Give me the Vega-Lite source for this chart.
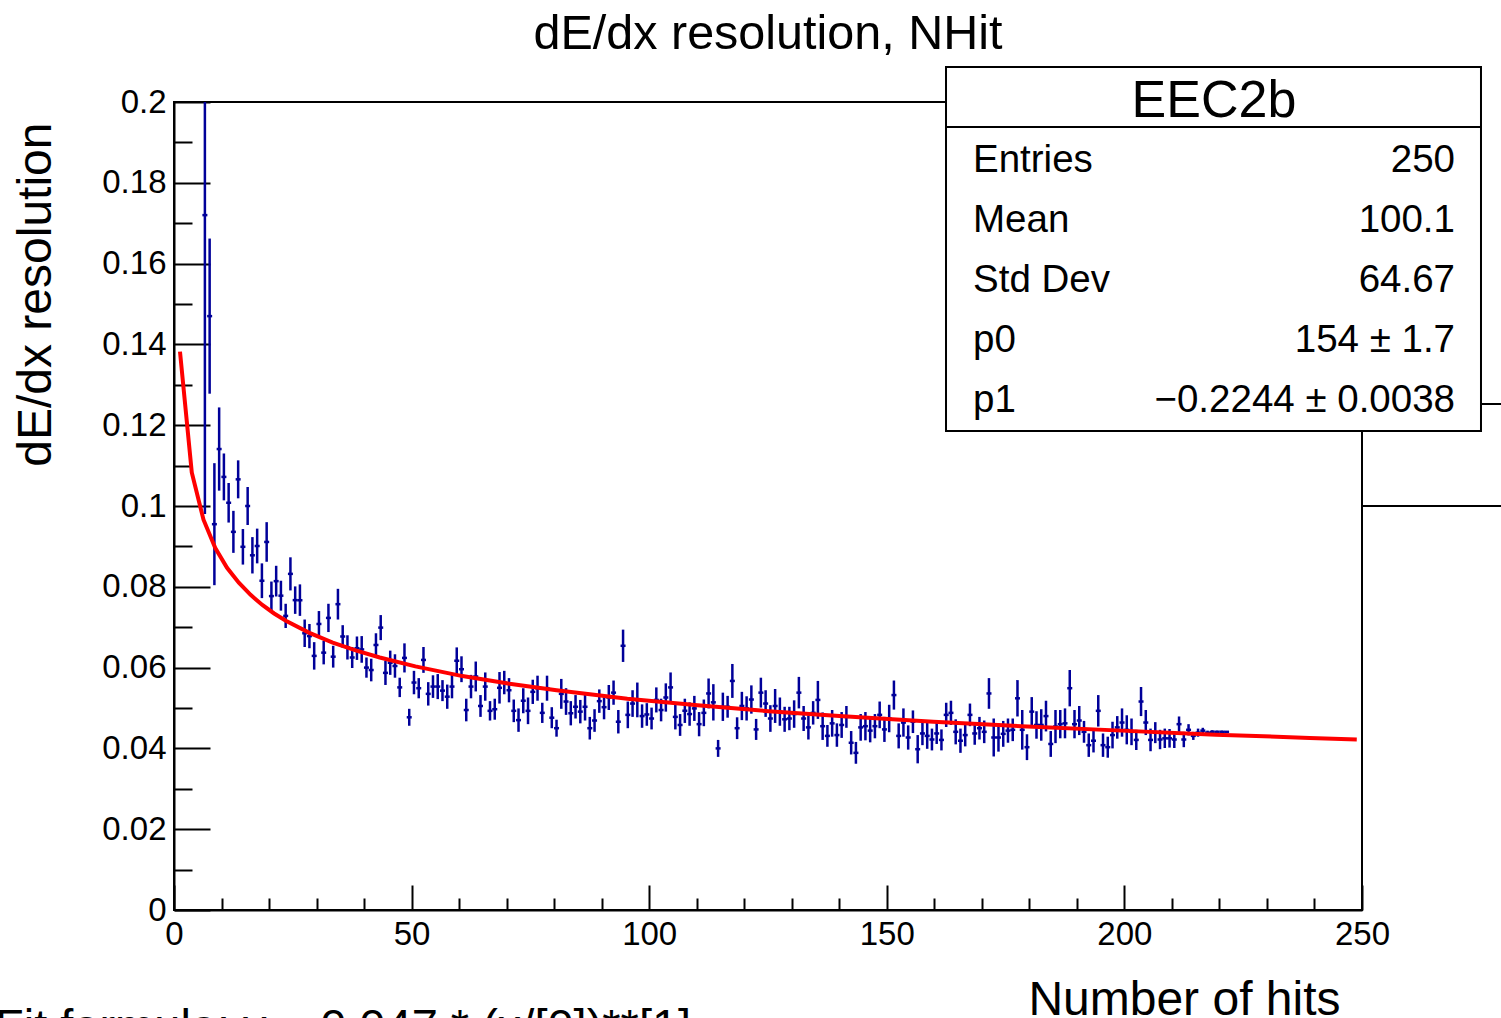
{
  "$schema": "https://vega.github.io/schema/vega-lite/v6.json",
  "width": 1188,
  "height": 808,
  "autosize": {"type": "none"},
  "padding": {"left": 174, "top": 102, "right": 139, "bottom": 108},
  "background": "white",
  "config": {"view": {"stroke": "black", "strokeWidth": 2}},
  "datasets": {
    "points": [
      {"x": 6.5, "y": 0.172, "e": 0.074},
      {"x": 7.5, "y": 0.147, "e": 0.0192},
      {"x": 8.5, "y": 0.0955, "e": 0.0151},
      {"x": 9.5, "y": 0.1141, "e": 0.0103},
      {"x": 10.5, "y": 0.1072, "e": 0.0058},
      {"x": 11.5, "y": 0.1008, "e": 0.0049},
      {"x": 12.5, "y": 0.0936, "e": 0.0052},
      {"x": 13.5, "y": 0.1066, "e": 0.0047},
      {"x": 14.5, "y": 0.0899, "e": 0.0044},
      {"x": 15.5, "y": 0.1, "e": 0.0047},
      {"x": 16.5, "y": 0.0878, "e": 0.0045},
      {"x": 17.5, "y": 0.0901, "e": 0.0043},
      {"x": 18.5, "y": 0.0815, "e": 0.0043},
      {"x": 19.5, "y": 0.0911, "e": 0.0049},
      {"x": 20.5, "y": 0.0777, "e": 0.0036},
      {"x": 21.5, "y": 0.0814, "e": 0.0038},
      {"x": 22.5, "y": 0.0778, "e": 0.0037},
      {"x": 23.5, "y": 0.0728, "e": 0.003},
      {"x": 24.5, "y": 0.0832, "e": 0.0041},
      {"x": 25.5, "y": 0.0767, "e": 0.0034},
      {"x": 26.5, "y": 0.0767, "e": 0.0039},
      {"x": 27.5, "y": 0.0685, "e": 0.0034},
      {"x": 28.5, "y": 0.0678, "e": 0.003},
      {"x": 29.5, "y": 0.0629, "e": 0.0034},
      {"x": 30.5, "y": 0.0708, "e": 0.0032},
      {"x": 31.5, "y": 0.0637, "e": 0.0029},
      {"x": 32.5, "y": 0.0723, "e": 0.0035},
      {"x": 33.5, "y": 0.0627, "e": 0.0027},
      {"x": 34.5, "y": 0.0757, "e": 0.0038},
      {"x": 35.5, "y": 0.0677, "e": 0.0028},
      {"x": 36.5, "y": 0.065, "e": 0.003},
      {"x": 37.5, "y": 0.0625, "e": 0.0026},
      {"x": 38.5, "y": 0.0648, "e": 0.0029},
      {"x": 39.5, "y": 0.0645, "e": 0.0033},
      {"x": 40.5, "y": 0.06, "e": 0.0025},
      {"x": 41.5, "y": 0.0594, "e": 0.0028},
      {"x": 42.5, "y": 0.0656, "e": 0.0029},
      {"x": 43.5, "y": 0.0699, "e": 0.0031},
      {"x": 44.5, "y": 0.0587, "e": 0.003},
      {"x": 45.5, "y": 0.0612, "e": 0.003},
      {"x": 46.5, "y": 0.0604, "e": 0.0029},
      {"x": 47.5, "y": 0.0551, "e": 0.0024},
      {"x": 48.5, "y": 0.0624, "e": 0.0036},
      {"x": 49.5, "y": 0.0477, "e": 0.0021},
      {"x": 50.5, "y": 0.0563, "e": 0.0029},
      {"x": 51.5, "y": 0.0549, "e": 0.0025},
      {"x": 52.5, "y": 0.0619, "e": 0.0032},
      {"x": 53.5, "y": 0.0535, "e": 0.0029},
      {"x": 54.5, "y": 0.0553, "e": 0.0028},
      {"x": 55.5, "y": 0.0553, "e": 0.0031},
      {"x": 56.5, "y": 0.0543, "e": 0.0026},
      {"x": 57.5, "y": 0.0528, "e": 0.003},
      {"x": 58.5, "y": 0.0553, "e": 0.0029},
      {"x": 59.5, "y": 0.0617, "e": 0.0033},
      {"x": 60.5, "y": 0.0596, "e": 0.0032},
      {"x": 61.5, "y": 0.0495, "e": 0.0028},
      {"x": 62.5, "y": 0.0553, "e": 0.0029},
      {"x": 63.5, "y": 0.0578, "e": 0.0037},
      {"x": 64.5, "y": 0.0505, "e": 0.0027},
      {"x": 65.5, "y": 0.0553, "e": 0.0035},
      {"x": 66.5, "y": 0.0493, "e": 0.0024},
      {"x": 67.5, "y": 0.0497, "e": 0.0026},
      {"x": 68.5, "y": 0.055, "e": 0.0039},
      {"x": 69.5, "y": 0.0563, "e": 0.0029},
      {"x": 70.5, "y": 0.0544, "e": 0.003},
      {"x": 71.5, "y": 0.0493, "e": 0.0028},
      {"x": 72.5, "y": 0.047, "e": 0.0029},
      {"x": 73.5, "y": 0.0518, "e": 0.0031},
      {"x": 74.5, "y": 0.0493, "e": 0.0033},
      {"x": 75.5, "y": 0.054, "e": 0.003},
      {"x": 76.5, "y": 0.0549, "e": 0.0031},
      {"x": 77.5, "y": 0.0488, "e": 0.0025},
      {"x": 78.5, "y": 0.0549, "e": 0.0031},
      {"x": 79.5, "y": 0.0476, "e": 0.0026},
      {"x": 80.5, "y": 0.045, "e": 0.0021},
      {"x": 81.5, "y": 0.0535, "e": 0.0037},
      {"x": 82.5, "y": 0.0516, "e": 0.0033},
      {"x": 83.5, "y": 0.0487, "e": 0.003},
      {"x": 84.5, "y": 0.0503, "e": 0.0029},
      {"x": 85.5, "y": 0.0491, "e": 0.0029},
      {"x": 86.5, "y": 0.0503, "e": 0.0034},
      {"x": 87.5, "y": 0.045, "e": 0.0028},
      {"x": 88.5, "y": 0.0469, "e": 0.0028},
      {"x": 89.5, "y": 0.0517, "e": 0.0029},
      {"x": 90.5, "y": 0.0502, "e": 0.003},
      {"x": 91.5, "y": 0.0526, "e": 0.0031},
      {"x": 92.5, "y": 0.0538, "e": 0.003},
      {"x": 93.5, "y": 0.0466, "e": 0.0029},
      {"x": 94.5, "y": 0.0654, "e": 0.004},
      {"x": 95.5, "y": 0.0483, "e": 0.0033},
      {"x": 96.5, "y": 0.0511, "e": 0.0033},
      {"x": 97.5, "y": 0.052, "e": 0.0043},
      {"x": 98.5, "y": 0.048, "e": 0.0029},
      {"x": 99.5, "y": 0.0484, "e": 0.0028},
      {"x": 100.5, "y": 0.0474, "e": 0.0027},
      {"x": 101.5, "y": 0.052, "e": 0.0031},
      {"x": 102.5, "y": 0.0495, "e": 0.0028},
      {"x": 103.5, "y": 0.0526, "e": 0.0035},
      {"x": 104.5, "y": 0.0551, "e": 0.0037},
      {"x": 105.5, "y": 0.0478, "e": 0.0031},
      {"x": 106.5, "y": 0.0458, "e": 0.0027},
      {"x": 107.5, "y": 0.0493, "e": 0.003},
      {"x": 108.5, "y": 0.0485, "e": 0.0029},
      {"x": 109.5, "y": 0.0499, "e": 0.0031},
      {"x": 110.5, "y": 0.046, "e": 0.003},
      {"x": 111.5, "y": 0.0488, "e": 0.0033},
      {"x": 112.5, "y": 0.0536, "e": 0.0037},
      {"x": 113.5, "y": 0.0514, "e": 0.0045},
      {"x": 114.5, "y": 0.04, "e": 0.0021},
      {"x": 115.5, "y": 0.0503, "e": 0.0035},
      {"x": 116.5, "y": 0.0503, "e": 0.0027},
      {"x": 117.5, "y": 0.0567, "e": 0.0042},
      {"x": 118.5, "y": 0.045, "e": 0.0027},
      {"x": 119.5, "y": 0.0505, "e": 0.0035},
      {"x": 120.5, "y": 0.0499, "e": 0.003},
      {"x": 121.5, "y": 0.0521, "e": 0.0035},
      {"x": 122.5, "y": 0.0447, "e": 0.0026},
      {"x": 123.5, "y": 0.0538, "e": 0.0037},
      {"x": 124.5, "y": 0.0511, "e": 0.0033},
      {"x": 125.5, "y": 0.0474, "e": 0.0033},
      {"x": 126.5, "y": 0.0505, "e": 0.0042},
      {"x": 127.5, "y": 0.0491, "e": 0.0035},
      {"x": 128.5, "y": 0.0472, "e": 0.0031},
      {"x": 129.5, "y": 0.0474, "e": 0.0029},
      {"x": 130.5, "y": 0.0485, "e": 0.0034},
      {"x": 131.5, "y": 0.0538, "e": 0.0039},
      {"x": 132.5, "y": 0.0474, "e": 0.0031},
      {"x": 133.5, "y": 0.0452, "e": 0.003},
      {"x": 134.5, "y": 0.0488, "e": 0.0029},
      {"x": 135.5, "y": 0.052, "e": 0.0047},
      {"x": 136.5, "y": 0.0455, "e": 0.0034},
      {"x": 137.5, "y": 0.0431, "e": 0.0027},
      {"x": 138.5, "y": 0.0462, "e": 0.0033},
      {"x": 139.5, "y": 0.0433, "e": 0.0029},
      {"x": 140.5, "y": 0.0458, "e": 0.0032},
      {"x": 141.5, "y": 0.0478, "e": 0.0027},
      {"x": 142.5, "y": 0.0414, "e": 0.0029},
      {"x": 143.5, "y": 0.0389, "e": 0.0027},
      {"x": 144.5, "y": 0.0452, "e": 0.0033},
      {"x": 145.5, "y": 0.0455, "e": 0.0035},
      {"x": 146.5, "y": 0.0444, "e": 0.0029},
      {"x": 147.5, "y": 0.0455, "e": 0.003},
      {"x": 148.5, "y": 0.0483, "e": 0.0033},
      {"x": 149.5, "y": 0.0447, "e": 0.0031},
      {"x": 150.5, "y": 0.0474, "e": 0.0034},
      {"x": 151.5, "y": 0.0532, "e": 0.0036},
      {"x": 152.5, "y": 0.0431, "e": 0.0031},
      {"x": 153.5, "y": 0.0464, "e": 0.0035},
      {"x": 154.5, "y": 0.0427, "e": 0.003},
      {"x": 155.5, "y": 0.0466, "e": 0.0028},
      {"x": 156.5, "y": 0.0398, "e": 0.0035},
      {"x": 157.5, "y": 0.0437, "e": 0.0029},
      {"x": 158.5, "y": 0.0431, "e": 0.0032},
      {"x": 159.5, "y": 0.0422, "e": 0.0027},
      {"x": 160.5, "y": 0.0437, "e": 0.0026},
      {"x": 161.5, "y": 0.0421, "e": 0.0026},
      {"x": 162.5, "y": 0.0483, "e": 0.003},
      {"x": 163.5, "y": 0.0488, "e": 0.003},
      {"x": 164.5, "y": 0.0441, "e": 0.0031},
      {"x": 165.5, "y": 0.0419, "e": 0.003},
      {"x": 166.5, "y": 0.0433, "e": 0.0028},
      {"x": 167.5, "y": 0.0483, "e": 0.0028},
      {"x": 168.5, "y": 0.0437, "e": 0.0028},
      {"x": 169.5, "y": 0.045, "e": 0.0028},
      {"x": 170.5, "y": 0.0441, "e": 0.0028},
      {"x": 171.5, "y": 0.0536, "e": 0.0038},
      {"x": 172.5, "y": 0.0427, "e": 0.0047},
      {"x": 173.5, "y": 0.0427, "e": 0.0035},
      {"x": 174.5, "y": 0.0436, "e": 0.0032},
      {"x": 175.5, "y": 0.0444, "e": 0.003},
      {"x": 176.5, "y": 0.0446, "e": 0.0028},
      {"x": 177.5, "y": 0.0524, "e": 0.0045},
      {"x": 178.5, "y": 0.0446, "e": 0.0049},
      {"x": 179.5, "y": 0.0403, "e": 0.0032},
      {"x": 180.5, "y": 0.0491, "e": 0.0036},
      {"x": 181.5, "y": 0.0458, "e": 0.0034},
      {"x": 182.5, "y": 0.0458, "e": 0.0039},
      {"x": 183.5, "y": 0.048, "e": 0.0038},
      {"x": 184.5, "y": 0.0411, "e": 0.0032},
      {"x": 185.5, "y": 0.0454, "e": 0.0041},
      {"x": 186.5, "y": 0.046, "e": 0.0035},
      {"x": 187.5, "y": 0.0462, "e": 0.0037},
      {"x": 188.5, "y": 0.0549, "e": 0.0045},
      {"x": 189.5, "y": 0.046, "e": 0.0035},
      {"x": 190.5, "y": 0.0469, "e": 0.0036},
      {"x": 191.5, "y": 0.0441, "e": 0.0027},
      {"x": 192.5, "y": 0.0408, "e": 0.0029},
      {"x": 193.5, "y": 0.0419, "e": 0.0029},
      {"x": 194.5, "y": 0.0493, "e": 0.0039},
      {"x": 195.5, "y": 0.0408, "e": 0.0029},
      {"x": 196.5, "y": 0.0403, "e": 0.0026},
      {"x": 197.5, "y": 0.0433, "e": 0.0033},
      {"x": 198.5, "y": 0.0452, "e": 0.0028},
      {"x": 199.5, "y": 0.0464, "e": 0.0035},
      {"x": 200.5, "y": 0.0446, "e": 0.0036},
      {"x": 201.5, "y": 0.0441, "e": 0.0033},
      {"x": 202.5, "y": 0.0421, "e": 0.0025},
      {"x": 203.5, "y": 0.0516, "e": 0.0036},
      {"x": 204.5, "y": 0.0464, "e": 0.0031},
      {"x": 205.5, "y": 0.0421, "e": 0.0028},
      {"x": 206.5, "y": 0.0439, "e": 0.0026},
      {"x": 207.5, "y": 0.0422, "e": 0.0024},
      {"x": 208.5, "y": 0.0425, "e": 0.0024},
      {"x": 209.5, "y": 0.0425, "e": 0.0023},
      {"x": 210.5, "y": 0.0422, "e": 0.0021},
      {"x": 211.5, "y": 0.046, "e": 0.0019},
      {"x": 212.5, "y": 0.0422, "e": 0.0019},
      {"x": 213.5, "y": 0.0446, "e": 0.0014},
      {"x": 214.5, "y": 0.0431, "e": 0.001},
      {"x": 215.5, "y": 0.0439, "e": 0.001},
      {"x": 216.5, "y": 0.0444, "e": 0.0007},
      {"x": 217.5, "y": 0.0439, "e": 0.0005},
      {"x": 218.5, "y": 0.0441, "e": 0.0004},
      {"x": 219.5, "y": 0.0441, "e": 0.0003},
      {"x": 220.5, "y": 0.0441, "e": 0.0003},
      {"x": 221.5, "y": 0.0441, "e": 0.0002}
    ],
    "fit": [
      {"x": 1.26, "f": 0.1382},
      {"x": 3.74, "f": 0.1083},
      {"x": 6.21, "f": 0.0966},
      {"x": 8.69, "f": 0.0896},
      {"x": 11.16, "f": 0.0847},
      {"x": 13.64, "f": 0.081},
      {"x": 16.12, "f": 0.078},
      {"x": 18.59, "f": 0.0755},
      {"x": 21.07, "f": 0.0734},
      {"x": 23.54, "f": 0.0716},
      {"x": 28.5, "f": 0.0686},
      {"x": 33.4, "f": 0.0662},
      {"x": 38.4, "f": 0.0642},
      {"x": 43.3, "f": 0.0625},
      {"x": 50.8, "f": 0.0603},
      {"x": 60.7, "f": 0.0579},
      {"x": 70.6, "f": 0.056},
      {"x": 80.5, "f": 0.0544},
      {"x": 95.4, "f": 0.0523},
      {"x": 110.2, "f": 0.0507},
      {"x": 125.1, "f": 0.0492},
      {"x": 140.0, "f": 0.048},
      {"x": 159.8, "f": 0.0466},
      {"x": 179.6, "f": 0.0454},
      {"x": 199.4, "f": 0.0444},
      {"x": 219.2, "f": 0.0434},
      {"x": 239.0, "f": 0.0426},
      {"x": 248.9, "f": 0.0422}
    ]
  },
  "layer": [
    {
      "data": {"name": "points"},
      "mark": {"type": "errorbar", "color": "#000099", "thickness": 2.5, "clip": true},
      "encoding": {
        "x": {"field": "x", "type": "quantitative",
          "scale": {"domain": [0, 250], "nice": false, "zero": false},
          "axis": {
            "values": [0,10,20,30,40,50,60,70,80,90,100,110,120,130,140,150,160,170,180,190,200,210,220,230,240,250],
            "labelExpr": "datum.value % 50 === 0 ? datum.label : ''",
            "tickSize": {"condition": {"test": "datum.value % 50 === 0", "value": -25}, "value": -12},
            "tickWidth": 2, "tickColor": "black", "domainColor": "black", "domainWidth": 2,
            "grid": false, "labelOverlap": false, "labelFlush": false,
            "labelFont": "Liberation Sans", "labelFontSize": 33, "labelColor": "black", "labelPadding": 33,
            "title": "Number of hits", "titleFont": "Liberation Sans", "titleFontSize": 48, "titleFontWeight": "normal", "titleColor": "black",
            "titleAlign": "right", "titleBaseline": "alphabetic", "titleX": 1166, "titleY": 104
          }
        },
        "y": {"field": "y", "type": "quantitative",
          "scale": {"domain": [0, 0.2], "nice": false, "zero": false},
          "axis": {
            "values": [0,0.005,0.01,0.015,0.02,0.025,0.03,0.035,0.04,0.045,0.05,0.055,0.06,0.065,0.07,0.075,0.08,0.085,0.09,0.095,0.1,0.105,0.11,0.115,0.12,0.125,0.13,0.135,0.14,0.145,0.15,0.155,0.16,0.165,0.17,0.175,0.18,0.185,0.19,0.195,0.2],
            "labelExpr": "round(datum.value*1000) % 20 === 0 ? format(datum.value, '~g') : ''",
            "tickSize": {"condition": {"test": "round(datum.value*1000) % 20 === 0", "value": -36}, "value": -18},
            "tickWidth": 2, "tickColor": "black", "domainColor": "black", "domainWidth": 2,
            "grid": false, "labelOverlap": false, "labelFlush": false,
            "labelFont": "Liberation Sans", "labelFontSize": 33, "labelColor": "black", "labelPadding": 44,
            "title": "dE/dx resolution", "titleFont": "Liberation Sans", "titleFontSize": 48, "titleFontWeight": "normal", "titleColor": "black",
            "titleAngle": -90, "titleAlign": "right", "titleBaseline": "alphabetic", "titleX": -124, "titleY": 20
          }
        },
        "yError": {"field": "e"}
      }
    },
    {
      "data": {"name": "points"},
      "mark": {"type": "tick", "orient": "horizontal", "size": 5, "thickness": 2.5, "color": "#000099", "opacity": 1, "clip": true},
      "encoding": {
        "x": {"field": "x", "type": "quantitative"},
        "y": {"field": "y", "type": "quantitative"}
      }
    },
    {
      "data": {"name": "fit"},
      "mark": {"type": "line", "color": "#ff0000", "strokeWidth": 4, "clip": true},
      "encoding": {
        "x": {"field": "x", "type": "quantitative"},
        "y": {"field": "f", "type": "quantitative"}
      }
    },
    {
      "data": {"values": [{}]},
      "mark": {"type": "rule", "color": "black", "strokeWidth": 2, "clip": false},
      "encoding": {
        "x": {"datum": 250, "type": "quantitative"},
        "x2": {"datum": 290},
        "y": {"datum": 0.1, "type": "quantitative"}
      }
    },
    {
      "data": {"values": [{}]},
      "mark": {"type": "rule", "color": "black", "strokeWidth": 2, "clip": false},
      "encoding": {
        "x": {"datum": 275, "type": "quantitative"},
        "x2": {"datum": 290},
        "y": {"datum": 0.12525, "type": "quantitative"}
      }
    },
    {
      "data": {"values": [{}]},
      "mark": {"type": "rect", "fill": "white", "stroke": "black", "strokeWidth": 2, "clip": false},
      "encoding": {
        "x": {"datum": 162.46, "type": "quantitative"},
        "x2": {"datum": 275.04},
        "y": {"datum": 0.20866, "type": "quantitative"},
        "y2": {"datum": 0.11856}
      }
    },
    {
      "data": {"values": [{}]},
      "mark": {"type": "rule", "color": "black", "strokeWidth": 2, "clip": false},
      "encoding": {
        "x": {"datum": 162.46, "type": "quantitative"},
        "x2": {"datum": 275.04},
        "y": {"datum": 0.19381, "type": "quantitative"}
      }
    },
    {
      "data": {"values": [{}]},
      "mark": {"type": "text", "text": "dE/dx resolution, NHit", "font": "Liberation Sans", "fontSize": 48.5, "align": "center", "baseline": "alphabetic", "color": "black", "clip": false},
      "encoding": {
        "x": {"datum": 125, "type": "quantitative"},
        "y": {"datum": 0.21312, "type": "quantitative"}
      }
    },
    {
      "data": {"values": [{}]},
      "mark": {"type": "text", "text": "EEC2b", "font": "Liberation Sans", "fontSize": 52, "align": "center", "baseline": "alphabetic", "color": "black", "clip": false},
      "encoding": {
        "x": {"datum": 218.85, "type": "quantitative"},
        "y": {"datum": 0.19629, "type": "quantitative"}
      }
    },
    {
      "data": {"values": [{}]},
      "mark": {"type": "text", "text": "Entries", "font": "Liberation Sans", "fontSize": 38.5, "align": "left", "baseline": "alphabetic", "color": "black", "clip": false},
      "encoding": {"x": {"datum": 168.14, "type": "quantitative"}, "y": {"datum": 0.18267, "type": "quantitative"}}
    },
    {
      "data": {"values": [{}]},
      "mark": {"type": "text", "text": "Mean", "font": "Liberation Sans", "fontSize": 38.5, "align": "left", "baseline": "alphabetic", "color": "black", "clip": false},
      "encoding": {"x": {"datum": 168.14, "type": "quantitative"}, "y": {"datum": 0.16782, "type": "quantitative"}}
    },
    {
      "data": {"values": [{}]},
      "mark": {"type": "text", "text": "Std Dev", "font": "Liberation Sans", "fontSize": 38.5, "align": "left", "baseline": "alphabetic", "color": "black", "clip": false},
      "encoding": {"x": {"datum": 168.14, "type": "quantitative"}, "y": {"datum": 0.15297, "type": "quantitative"}}
    },
    {
      "data": {"values": [{}]},
      "mark": {"type": "text", "text": "p0", "font": "Liberation Sans", "fontSize": 38.5, "align": "left", "baseline": "alphabetic", "color": "black", "clip": false},
      "encoding": {"x": {"datum": 168.14, "type": "quantitative"}, "y": {"datum": 0.13812, "type": "quantitative"}}
    },
    {
      "data": {"values": [{}]},
      "mark": {"type": "text", "text": "p1", "font": "Liberation Sans", "fontSize": 38.5, "align": "left", "baseline": "alphabetic", "color": "black", "clip": false},
      "encoding": {"x": {"datum": 168.14, "type": "quantitative"}, "y": {"datum": 0.12327, "type": "quantitative"}}
    },
    {
      "data": {"values": [{}]},
      "mark": {"type": "text", "text": "250", "font": "Liberation Sans", "fontSize": 38.5, "align": "right", "baseline": "alphabetic", "color": "black", "clip": false},
      "encoding": {"x": {"datum": 269.57, "type": "quantitative"}, "y": {"datum": 0.18267, "type": "quantitative"}}
    },
    {
      "data": {"values": [{}]},
      "mark": {"type": "text", "text": "100.1", "font": "Liberation Sans", "fontSize": 38.5, "align": "right", "baseline": "alphabetic", "color": "black", "clip": false},
      "encoding": {"x": {"datum": 269.57, "type": "quantitative"}, "y": {"datum": 0.16782, "type": "quantitative"}}
    },
    {
      "data": {"values": [{}]},
      "mark": {"type": "text", "text": "64.67", "font": "Liberation Sans", "fontSize": 38.5, "align": "right", "baseline": "alphabetic", "color": "black", "clip": false},
      "encoding": {"x": {"datum": 269.57, "type": "quantitative"}, "y": {"datum": 0.15297, "type": "quantitative"}}
    },
    {
      "data": {"values": [{}]},
      "mark": {"type": "text", "text": "154 ± 1.7", "font": "Liberation Sans", "fontSize": 38.5, "align": "right", "baseline": "alphabetic", "color": "black", "clip": false},
      "encoding": {"x": {"datum": 269.57, "type": "quantitative"}, "y": {"datum": 0.13812, "type": "quantitative"}}
    },
    {
      "data": {"values": [{}]},
      "mark": {"type": "text", "text": "−0.2244 ± 0.0038", "font": "Liberation Sans", "fontSize": 38.5, "align": "right", "baseline": "alphabetic", "color": "black", "clip": false},
      "encoding": {"x": {"datum": 269.57, "type": "quantitative"}, "y": {"datum": 0.12327, "type": "quantitative"}}
    },
    {
      "data": {"values": [{}]},
      "mark": {"type": "text", "text": "Fit formula: y = 0.047 * (x/[0])**[1]", "font": "Liberation Sans", "fontSize": 47, "align": "left", "baseline": "alphabetic", "color": "black", "clip": false},
      "encoding": {"x": {"datum": -37.67, "type": "quantitative"}, "y": {"datum": -0.03267, "type": "quantitative"}}
    }
  ]
}
